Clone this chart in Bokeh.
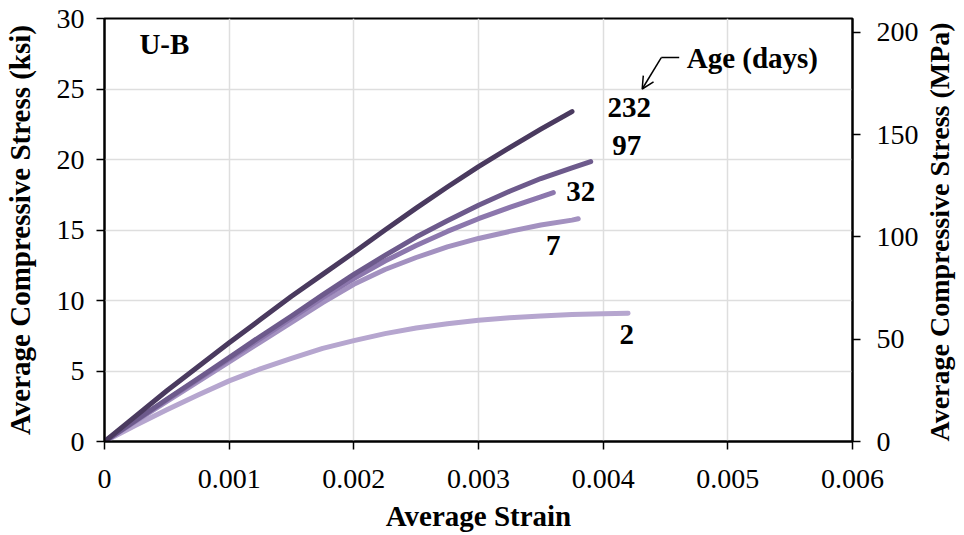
import math
from bokeh.plotting import figure
from bokeh.models import (LinearAxis, Range1d, FixedTicker, Arrow, OpenHead,
                          ColumnDataSource)
from bokeh.core.properties import value
from bokeh.embed import file_html
from bokeh.resources import INLINE

# ---- data ----
strain_232 = [0, 0.00025, 0.0005, 0.00075, 0.001, 0.00125, 0.0015, 0.00175, 0.002,
              0.00225, 0.0025, 0.00275, 0.003, 0.00325, 0.0035, 0.00375]
stress_232 = [0, 1.8, 3.6, 5.3, 7.0, 8.65, 10.3, 11.85, 13.4,
              15.0, 16.55, 18.05, 19.5, 20.85, 22.15, 23.4]

strain_97 = [0, 0.00025, 0.0005, 0.00075, 0.001, 0.00125, 0.0015, 0.00175, 0.002,
             0.00225, 0.0025, 0.00275, 0.003, 0.00325, 0.0035, 0.00375, 0.0039]
stress_97 = [0, 1.5, 3.0, 4.47, 5.95, 7.45, 8.9, 10.4, 11.85,
             13.2, 14.5, 15.65, 16.75, 17.75, 18.65, 19.4, 19.85]

strain_32 = [0, 0.00025, 0.0005, 0.00075, 0.001, 0.00125, 0.0015, 0.00175, 0.002,
             0.00225, 0.0025, 0.00275, 0.003, 0.00325, 0.0035, 0.0036]
stress_32 = [0, 1.47, 2.95, 4.4, 5.85, 7.3, 8.75, 10.2, 11.55,
             12.8, 13.9, 14.9, 15.8, 16.6, 17.35, 17.65]

strain_7 = [0, 0.00025, 0.0005, 0.00075, 0.001, 0.00125, 0.0015, 0.00175, 0.002,
            0.00225, 0.0025, 0.00275, 0.003, 0.00325, 0.0035, 0.00375, 0.0038]
stress_7 = [0, 1.42, 2.85, 4.25, 5.65, 7.05, 8.45, 9.85, 11.15,
            12.2, 13.05, 13.8, 14.4, 14.9, 15.35, 15.7, 15.8]

strain_2 = [0, 0.00025, 0.0005, 0.00075, 0.001, 0.00125, 0.0015, 0.00175, 0.002,
            0.00225, 0.0025, 0.00275, 0.003, 0.00325, 0.0035, 0.00375, 0.004, 0.0042]
stress_2 = [0, 1.15, 2.25, 3.3, 4.3, 5.15, 5.9, 6.6, 7.15,
            7.65, 8.05, 8.35, 8.6, 8.78, 8.9, 9.0, 9.06, 9.1]

ages = ["232", "97", "32", "7", "2"]
age_label_x = [0.00421, 0.00419, 0.00382, 0.0036, 0.00419]
age_label_y = [23.7, 21.0, 17.7, 13.9, 7.6]

x_ticks = [0, 0.001, 0.002, 0.003, 0.004, 0.005, 0.006]
x_tick_labels = ["0", "0.001", "0.002", "0.003", "0.004", "0.005", "0.006"]
ksi_ticks = [0, 5, 10, 15, 20, 25, 30]
mpa_ticks = [0, 50, 100, 150, 200]
KSI_TO_MPA = 6.894757

colors = ["#4a3a5f", "#6d5a8c", "#8c77ad", "#a391c0", "#b6a6cf"]

FONT = "'Liberation Serif'"
TICK_SIZE = "28px"
LABEL_SIZE = "29px"
MPA_LABEL = "Average Compressive Stress (MPa)"

p = figure(frame_width=748, frame_height=423,
           min_border_left=104, min_border_right=108,
           min_border_top=18, min_border_bottom=92,
           x_range=Range1d(0, 0.006), y_range=Range1d(0, 30),
           output_backend="svg", toolbar_location=None,
           background_fill_color="white", border_fill_color="white")
p.extra_y_ranges = {"mpa": Range1d(0, 30 * KSI_TO_MPA)}

p.outline_line_color = "black"
p.outline_line_width = 2

for g in (p.xgrid[0], p.ygrid[0]):
    g.grid_line_color = "#dedede"
    g.grid_line_width = 1.5
p.xgrid[0].ticker = FixedTicker(ticks=x_ticks)
p.ygrid[0].ticker = FixedTicker(ticks=ksi_ticks)

right = LinearAxis(y_range_name="mpa")
p.add_layout(right, "right")

def style_axis(ax):
    ax.axis_line_color = "black"
    ax.axis_line_width = 2
    ax.major_tick_line_color = "black"
    ax.major_tick_line_width = 1.5
    ax.major_tick_out = 8
    ax.major_tick_in = 0
    ax.minor_tick_line_color = None
    ax.major_label_text_font = FONT
    ax.major_label_text_font_size = TICK_SIZE
    ax.major_label_text_color = "black"
    ax.axis_label_text_font = FONT
    ax.axis_label_text_font_size = LABEL_SIZE
    ax.axis_label_text_font_style = "bold"
    ax.axis_label_text_color = "black"

xa = p.xaxis[0]
style_axis(xa)
xa.ticker = FixedTicker(ticks=x_ticks)
xa.major_label_overrides = {t: s for t, s in zip(x_ticks, x_tick_labels)}
xa.axis_label = "Average Strain"
xa.major_label_standoff = 20
xa.axis_label_standoff = 9

ya = p.yaxis[0]
style_axis(ya)
ya.ticker = FixedTicker(ticks=ksi_ticks)
ya.axis_label = "Average Compressive Stress (ksi)"
ya.major_label_standoff = 12
ya.axis_label_standoff = 18

style_axis(right)
right.ticker = FixedTicker(ticks=mpa_ticks)
right.major_label_standoff = 16
right.axis_label = MPA_LABEL
right.axis_label_text_font_size = "28px"
right.axis_label_orientation = math.pi / 2
right.axis_label_align = "start"
right.axis_label_standoff = 18

series = [(strain_232, stress_232), (strain_97, stress_97), (strain_32, stress_32),
          (strain_7, stress_7), (strain_2, stress_2)]
for (xs, ys), c in reversed(list(zip(series, colors))):
    p.line(xs, ys, line_color=c, line_width=5, line_cap="round", line_join="round")

src = ColumnDataSource(dict(x=age_label_x, y=age_label_y, t=ages))
p.text(x="x", y="y", text="t", source=src, text_font=value(FONT),
       text_font_size=LABEL_SIZE, text_font_style="bold", text_color="black",
       text_align="center", text_baseline="middle")

p.text(x=[0.00028], y=[28.2], text=["U-B"], text_font=value(FONT),
       text_font_size=LABEL_SIZE, text_font_style="bold", text_color="black",
       text_align="left", text_baseline="middle")
p.text(x=[0.00467], y=[27.23], text=["Age (days)"], text_font=value(FONT),
       text_font_size=LABEL_SIZE, text_font_style="bold", text_color="black",
       text_align="left", text_baseline="middle")
p.line([0.00461, 0.004466], [27.23, 27.23], line_color="black", line_width=1.5)
p.add_layout(Arrow(end=OpenHead(size=12, line_color="black", line_width=1.5),
                   x_start=0.004466, y_start=27.23, x_end=0.004313, y_end=25.0,
                   line_color="black", line_width=1.5))

open("out.html", "w").write(file_html(p, INLINE))
